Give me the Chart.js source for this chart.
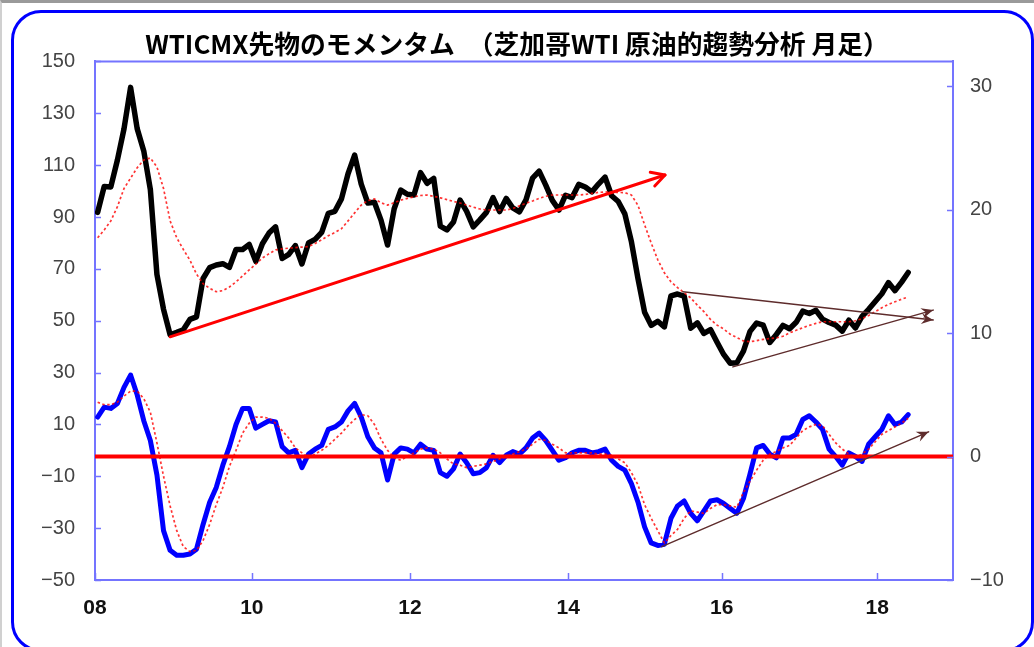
<!DOCTYPE html>
<html lang="ja">
<head>
    <meta charset="UTF-8">
    <title>WTICMX先物のモメンタム</title>
    <script src="https://cdn.jsdelivr.net/npm/chart.js"></script>
    <style>
        html, body {
            margin: 0;
            padding: 0;
            background: #ffffff;
            overflow: hidden;
        }
        .page {
            position: relative;
            width: 1034px;
            height: 647px;
            border-top: 3px solid #9a9a9a;
            border-left: 2px solid #d0d0d0;
            box-sizing: border-box;
        }
        .frame {
            position: absolute;
            left: 9px;
            top: 7px;
            width: 1023px;
            height: 642px;
            border: 3px solid #0000ff;
            border-radius: 30px;
            box-sizing: border-box;
        }
        .chart-box {
            position: absolute;
            left: -2px;
            top: -3px;
            width: 1034px;
            height: 647px;
        }
    </style>
</head>
<body>
<div class="page">
    <div class="frame"></div>
    <div class="chart-box">
        <canvas id="wti"></canvas>
    </div>
</div>

<script>
    const titleText = 'WTICMX先物のモメンタム　（芝加哥WTI 原油的趨勢分析 月足）';

    // x axis: months counted from Jan 2008, labels at every second year
    const xTickPos = [0, 23.8, 47.8, 71.8, 95.1, 118.7];
    const xLabels = ['08', '10', '12', '14', '16', '18'];
    const xMax = 130.2;
    const monthShift = 0.4;
    const rightTicks = [-10, 0, 10, 20, 30];

    // monthly WTI price, Jan 2008 - Apr 2018 (left axis)
    const price = [
        91.8, 101.8, 101.6, 112, 124, 140, 124.1, 115.5, 100.6, 67.8, 54.4, 44.6,
        45.5, 46.5, 50.5, 51.5, 66.3, 70.5, 71.5, 72, 70.6, 77.5, 77.5, 79.4,
        72.9, 79.7, 83.8, 86.2, 74, 75.6, 79, 71.9, 80, 81.4, 84.1, 91.4,
        92.2, 97, 106.7, 113.9, 102.7, 95.4, 95.7, 88.8, 79.2, 93.2, 100.4, 98.8,
        98.5, 107.1, 103, 104.9, 86.5, 85, 88.1, 96.5, 92.2, 86.2, 88.9, 91.8,
        97.5, 92.1, 97.2, 93.5, 92, 96.6, 105, 107.7, 102.3, 96.4, 92.7, 98.4,
        97.5, 102.6, 101.6, 99.7, 102.7, 105.4, 98.2, 96, 91.2, 80.5, 66.2, 53.3,
        48.2, 49.8, 47.6, 59.6, 60.3, 59.5, 47.1, 49.2, 45.1, 46.6, 41.7, 37,
        33.6, 33.8, 38.3, 45.9, 49.1, 48.3, 41.6, 44.7, 48.2, 46.9, 49.4, 53.7,
        52.8, 54, 50.6, 49.3, 48.3, 46, 50.2, 47.2, 51.7, 54.4, 57.4, 60.4,
        64.7, 61.6, 64.9, 68.6
    ];

    // moving average of price (red dotted, left axis)
    const priceAvg = [
        82, 85, 88.5, 94, 101, 105, 109, 112, 112.8, 109.3, 101, 88.5,
        82, 77.5, 73.4, 68, 64.3, 62.5, 61.2, 61.6, 63, 65, 67.3, 69.6,
        71.8, 74.2, 75.8, 77.3, 77.7, 78, 78.2, 78.4, 78.6, 79.8, 81.2, 82.8,
        84, 85.5, 88.5, 91.6, 94.6, 96.3, 97, 95.5, 94.6, 95.5, 96.5, 97.2,
        97.8, 98.3, 98.5, 98, 97.4, 96.7, 96, 95.4, 94.6, 93.8, 93.1, 92.7,
        92.7, 92.7, 92.7, 93.3, 94.3, 95.3, 96.2, 97.2, 98, 98.5, 98.5, 98.5,
        98.5, 98.5, 98.7, 99.1, 99.5, 99.7, 99.6, 99.5, 99.4, 98.5, 94.5, 87,
        80, 73.5, 68.5, 65, 62.8, 60.8, 58.8, 56, 53.5, 50.5, 48.3, 46.8,
        44.8, 43.5, 42.2, 41.9, 42.3, 42.8, 43.1, 43.4, 44, 45.3, 46.3, 47.3,
        48.2, 49, 49.6, 49.6, 49.6, 49.6, 49.6, 50, 50.8, 52, 53.5, 55,
        56.3, 57.3, 58.3, 59.2
    ];

    // momentum (blue, right axis)
    const momentum = [
        3.2, 4.0, 3.9, 4.3, 5.6, 6.6, 5.0, 2.9, 1.3, -1.5, -6.0, -7.6,
        -8.0, -8.0, -7.9, -7.5, -5.5, -3.7, -2.5, -0.7, 0.8, 2.6, 3.9, 3.9,
        2.3, 2.6, 2.9, 2.8, 0.8, 0.3, 0.5, -0.9, 0.2, 0.6, 0.9, 2.2,
        2.4, 2.8, 3.7, 4.3, 3.2, 1.6, 0.7, 0.3, -1.9, 0.2, 0.7, 0.6,
        0.3, 1.0, 0.6, 0.5, -1.3, -1.6, -1.0, 0.2, -0.5, -1.4, -1.3, -0.9,
        0.1, -0.5, 0.1, 0.4, 0.2, 0.7, 1.5, 1.9, 1.3, 0.5, -0.3, -0.1,
        0.3, 0.5, 0.5, 0.3, 0.4, 0.6, -0.3, -0.8, -1.1, -2.2, -3.7, -5.7,
        -7.0, -7.2, -7.1, -5.0, -4.0, -3.6, -4.6, -5.2, -4.4, -3.6, -3.5, -3.8,
        -4.2, -4.6, -3.4, -1.4, 0.7, 0.9, 0.2, -0.1, 1.5, 1.5, 1.8, 3.0,
        3.3, 2.8, 2.2, 0.6, 0.0, -0.7, 0.3, 0.0, -0.4, 1.0, 1.6, 2.2,
        3.3, 2.6, 2.8, 3.4
    ];

    // moving average of momentum (red dotted, right axis)
    const momentumAvg = [
        4.4, 4.2, 4.2, 4.4, 4.9, 5.3, 5.3, 4.7, 3.6, 1.1, -1.6, -4.0,
        -6.0, -7.3, -7.7, -7.6, -6.8, -5.5, -3.9, -2.5, -0.8, 0.5, 1.9, 2.7,
        3.2, 3.2, 3.1, 2.7, 2.1, 1.5, 0.7, 0.3, -0.1, 0.2, 0.5, 0.9,
        1.4, 1.9, 2.5, 3.0, 3.4, 3.3, 2.6, 1.4, 0.5, -0.1, -0.3, 0.0,
        0.3, 0.6, 0.7, 0.6, 0.3, -0.2, -0.6, -0.7, -0.9, -0.8, -0.7, -0.6,
        -0.4, -0.2, 0.0, 0.2, 0.4, 0.6, 1.0, 1.4, 1.3, 1.0, 0.7, 0.3,
        0.3, 0.3, 0.3, 0.3, 0.2, 0.2, 0.1, -0.2, -0.5, -1.3, -2.3, -3.9,
        -5.0, -6.0, -7.0, -6.4, -5.9, -5.0, -4.4, -4.5, -4.6, -4.2, -3.9, -3.9,
        -4.0, -4.1, -2.9, -2.0, -1.1, -0.3, 0.2, 0.4, 0.7, 0.9, 1.5, 2.1,
        2.4, 2.6, 2.5, 1.8, 1.1, 0.6, 0.2, -0.1, 0.2, 0.6, 1.2, 1.8,
        2.1, 2.4, 2.7, 3.1
    ];

    // trend arrows: [month, value] start and end
    const priceTrend = [[11.4, 43.8], [86.5, 106.2]];
    const upperTrend = [[89.2, 61.2], [127.2, 50.3]];
    const lowerTrend = [[96.8, 32.2], [127.2, 54.1]];
    const momentumTrend = [[86, -7.3], [126.5, 2.0]];
    const zeroLine = [[0, 0], [xMax, 0]];

    const axisBlue = '#7474ff';
    const brown = '#5e2c2c';
    const dotRed = 'rgba(255,0,0,0.8)';

    const toPoints = arr => arr.map((v, i) => ({ x: i + monthShift, y: v }));
    const pairPoints = arr => arr.map(p => ({ x: p[0], y: p[1] }));
    const fmt = v => (v < 0 ? '\u2212' + Math.abs(v) : String(v));

    // top border, inner tick marks and arrow heads
    const decor = {
        id: 'decor',
        afterDatasetsDraw(chart) {
            const { ctx, chartArea: a, scales } = chart;
            ctx.save();
            ctx.strokeStyle = axisBlue;
            ctx.lineWidth = 2;
            ctx.beginPath();
            ctx.moveTo(a.left, a.top);
            ctx.lineTo(a.right, a.top);
            ctx.stroke();

            ctx.lineWidth = 1.5;
            ctx.beginPath();
            scales.yL.ticks.forEach(t => {
                const y = Math.round(scales.yL.getPixelForValue(t.value)) + 0.5;
                ctx.moveTo(a.left, y);
                ctx.lineTo(a.left + 6, y);
            });
            scales.yR.ticks.forEach(t => {
                const y = Math.round(scales.yR.getPixelForValue(t.value)) + 0.5;
                ctx.moveTo(a.right, y);
                ctx.lineTo(a.right - 6, y);
            });
            scales.x.ticks.forEach(t => {
                const x = Math.round(scales.x.getPixelForValue(t.value)) + 0.5;
                ctx.moveTo(x, a.bottom);
                ctx.lineTo(x, a.bottom - 7);
            });
            ctx.stroke();

            chart.data.datasets.forEach((ds, i) => {
                if (!ds.arrow) return;
                const pts = chart.getDatasetMeta(i).data;
                const p1 = pts[pts.length - 2];
                const p2 = pts[pts.length - 1];
                const ang = Math.atan2(p2.y - p1.y, p2.x - p1.x);
                const len = ds.arrow === 'open' ? 15 : 13;
                const spread = ds.arrow === 'open' ? 0.5 : 0.42;
                const l = { x: p2.x - len * Math.cos(ang - spread), y: p2.y - len * Math.sin(ang - spread) };
                const r = { x: p2.x - len * Math.cos(ang + spread), y: p2.y - len * Math.sin(ang + spread) };
                ctx.beginPath();
                if (ds.arrow === 'open') {
                    ctx.strokeStyle = ds.borderColor;
                    ctx.lineWidth = ds.borderWidth;
                    ctx.lineCap = 'round';
                    ctx.lineJoin = 'round';
                    ctx.moveTo(l.x, l.y);
                    ctx.lineTo(p2.x, p2.y);
                    ctx.lineTo(r.x, r.y);
                    ctx.stroke();
                } else {
                    ctx.fillStyle = ds.borderColor;
                    ctx.moveTo(p2.x, p2.y);
                    ctx.lineTo(l.x, l.y);
                    ctx.lineTo(p2.x - 0.6 * len * Math.cos(ang), p2.y - 0.6 * len * Math.sin(ang));
                    ctx.lineTo(r.x, r.y);
                    ctx.closePath();
                    ctx.fill();
                }
            });
            ctx.restore();
        }
    };

    const lineBase = {
        pointRadius: 0,
        pointHoverRadius: 0,
        tension: 0,
        fill: false,
        borderJoinStyle: 'round',
        borderCapStyle: 'round'
    };

    new Chart(document.getElementById('wti'), {
        type: 'line',
        data: {
            datasets: [
                { ...lineBase, label: 'trend', data: pairPoints(priceTrend), yAxisID: 'yL', borderColor: '#ff0000', borderWidth: 3, arrow: 'open', order: 0 },
                { ...lineBase, label: 'upper', data: pairPoints(upperTrend), yAxisID: 'yL', borderColor: brown, borderWidth: 1.5, arrow: 'filled', order: 0 },
                { ...lineBase, label: 'lower', data: pairPoints(lowerTrend), yAxisID: 'yL', borderColor: brown, borderWidth: 1.5, arrow: 'filled', order: 0 },
                { ...lineBase, label: 'mom trend', data: pairPoints(momentumTrend), yAxisID: 'yR', borderColor: brown, borderWidth: 1.5, arrow: 'filled', order: 0 },
                { ...lineBase, label: 'zero', data: pairPoints(zeroLine), yAxisID: 'yR', borderColor: '#ff0000', borderWidth: 4, borderCapStyle: 'butt', order: 1 },
                { ...lineBase, label: 'price avg', data: toPoints(priceAvg), yAxisID: 'yL', borderColor: dotRed, borderWidth: 1.7, borderDash: [2.5, 2.5], borderCapStyle: 'butt', order: 2 },
                { ...lineBase, label: 'momentum avg', data: toPoints(momentumAvg), yAxisID: 'yR', borderColor: dotRed, borderWidth: 1.7, borderDash: [2.5, 2.5], borderCapStyle: 'butt', order: 2 },
                { ...lineBase, label: 'WTI', data: toPoints(price), yAxisID: 'yL', borderColor: '#000000', borderWidth: 5.5, order: 3 },
                { ...lineBase, label: 'momentum', data: toPoints(momentum), yAxisID: 'yR', borderColor: '#0000ff', borderWidth: 5, order: 4 }
            ]
        },
        options: {
            responsive: true,
            maintainAspectRatio: false,
            animation: false,
            events: [],
            layout: { padding: 0 },
            plugins: {
                legend: { display: false },
                tooltip: { enabled: false },
                title: {
                    display: true,
                    text: titleText,
                    color: '#000000',
                    font: { family: '"Noto Sans CJK JP", "Noto Sans", sans-serif', size: 25.8, weight: 'bold', lineHeight: 1.2 },
                    padding: { top: 29, bottom: 1.5 }
                }
            },
            scales: {
                x: {
                    type: 'linear',
                    min: 0,
                    max: xMax,
                    afterBuildTicks: axis => { axis.ticks = xTickPos.map(v => ({ value: v })); },
                    afterFit: axis => { axis.height = 67; },
                    grid: { display: false, drawTicks: false },
                    border: { display: true, color: axisBlue, width: 2 },
                    ticks: {
                        autoSkip: false,
                        maxRotation: 0,
                        padding: 16,
                        color: '#111111',
                        font: { family: '"Liberation Sans", Arial, sans-serif', size: 21, weight: 'bold' },
                        callback: (v, i) => xLabels[i]
                    }
                },
                yL: {
                    type: 'linear',
                    position: 'left',
                    min: -50,
                    max: 150,
                    afterFit: axis => { axis.width = 95; },
                    grid: { display: false, drawTicks: false },
                    border: { display: true, color: axisBlue, width: 2 },
                    ticks: {
                        stepSize: 20,
                        padding: 20,
                        color: '#444444',
                        font: { family: '"Liberation Sans", Arial, sans-serif', size: 20 },
                        callback: v => fmt(v)
                    }
                },
                yR: {
                    type: 'linear',
                    position: 'right',
                    min: -10,
                    max: 32,
                    afterBuildTicks: axis => { axis.ticks = rightTicks.map(v => ({ value: v })); },
                    afterFit: axis => { axis.width = 81; },
                    grid: { display: false, drawTicks: false },
                    border: { display: true, color: axisBlue, width: 2 },
                    ticks: {
                        padding: 17,
                        color: '#444444',
                        font: { family: '"Liberation Sans", Arial, sans-serif', size: 20 },
                        callback: v => fmt(v)
                    }
                }
            }
        },
        plugins: [decor]
    });
</script>
</body>
</html>
